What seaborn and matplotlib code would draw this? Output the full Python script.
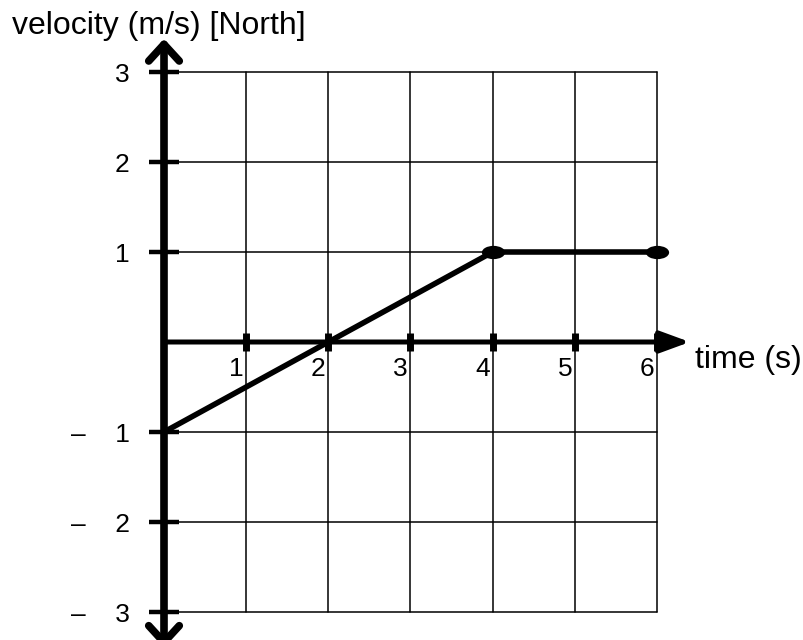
import numpy as np
import pandas as pd
import matplotlib
matplotlib.use("Agg")
import matplotlib.pyplot as plt
import seaborn as sns
from matplotlib.path import Path
from matplotlib.transforms import ScaledTranslation, Affine2D

# data
time_s = [0, 4, 6]
velocity = [-1, 1, 1]
x_ticks = [1, 2, 3, 4, 5, 6]
x_tick_labels = ["1", "2", "3", "4", "5", "6"]
y_ticks = [-3, -2, -1, 1, 2, 3]
y_tick_labels = ["–    3", "–    2", "–    1", "1", "2", "3"]

df = pd.DataFrame({"time": time_s, "velocity": velocity})

sns.set_style("white")
plt.rcParams["font.family"] = ["Liberation Sans", "DejaVu Sans"]
plt.rcParams["text.color"] = "black"

fig = plt.figure(figsize=(8.04, 6.4), dpi=100)
ax = fig.add_axes([164 / 804, 1 - 612 / 640, (657 - 164) / 804, (612 - 72) / 640])

# grid of the paper
ax.set_xlim(0, 6)
ax.set_ylim(-3, 3)
for v in range(0, 7):
    ax.axvline(v, color="black", lw=1.1, zorder=1, clip_on=False)
for v in range(-3, 4):
    ax.axhline(v, color="black", lw=1.1, zorder=1, clip_on=False)

for s in ax.spines.values():
    s.set_visible(False)
ax.spines["bottom"].set_position(("data", 0))
ax.spines["left"].set_position(("data", 0))

# axes with arrows
ax.annotate("", xy=(0, 3.37), xytext=(0, -3.4), annotation_clip=False,
            arrowprops=dict(arrowstyle="<->,head_length=0.6,head_width=0.55", lw=5.5,
                            color="black", shrinkA=0, shrinkB=0, mutation_scale=20),
            zorder=4)
ax.annotate("", xy=(6.4, 0), xytext=(0, 0), annotation_clip=False,
            arrowprops=dict(arrowstyle="-|>,head_length=0.9,head_width=0.33", lw=3.6,
                            color="black", shrinkA=0, shrinkB=0, mutation_scale=20),
            zorder=4)

# the velocity line
ellipse = Path.unit_circle().transformed(Affine2D().scale(1.75, 1.0))
sns.lineplot(data=df, x="time", y="velocity", color="black", lw=4.0, ax=ax, zorder=5)
sns.scatterplot(data=df.iloc[1:], x="time", y="velocity", color="black", marker=ellipse,
                s=280, linewidth=0, ax=ax, zorder=6, clip_on=False)

# ticks
ax.set_xticks(x_ticks)
ax.set_xticklabels(x_tick_labels)
ax.set_yticks(y_ticks)
ax.set_yticklabels(y_tick_labels)
ax.tick_params(axis="x", direction="inout", length=13, width=5, pad=4, labelsize=19,
               colors="black", bottom=True)
ax.tick_params(axis="y", direction="inout", length=21.6, width=3.2, pad=14, labelsize=19,
               colors="black", left=True)
shift = ScaledTranslation(-2.5 / 100, 0, fig.dpi_scale_trans)
for lab in ax.get_xticklabels():
    lab.set_horizontalalignment("right")
    lab.set_transform(lab.get_transform() + shift)

ax.set_xlabel("")
ax.set_ylabel("")
ax.grid(False)

fig.text(12 / 804, 1 - 34 / 640, "velocity (m/s) [North]", fontsize=23, va="baseline", ha="left")
ax.text(6.46, -0.2, "time (s)", fontsize=23, va="center", ha="left", clip_on=False)

fig.savefig("out.png", dpi=100, facecolor="white")
